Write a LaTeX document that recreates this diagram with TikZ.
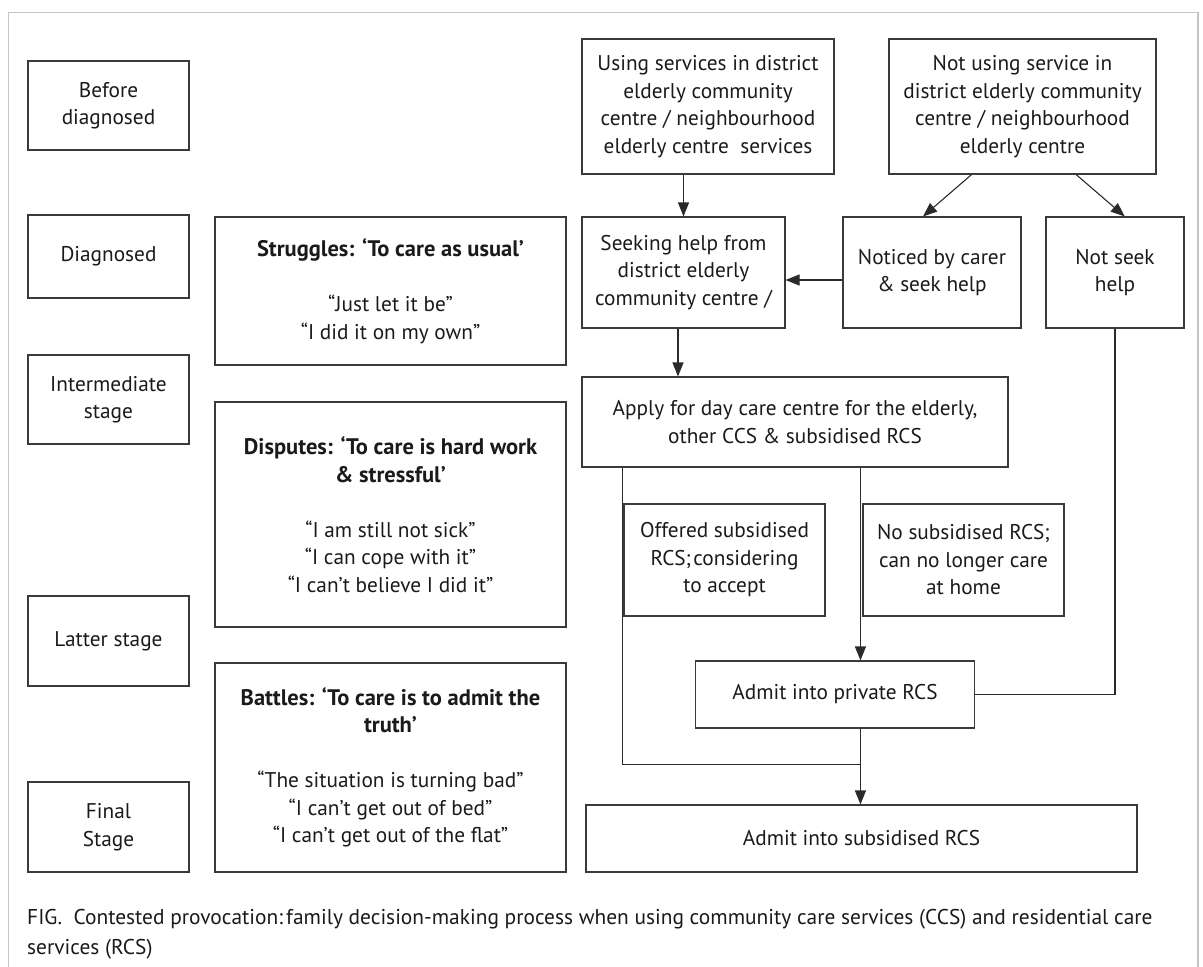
\documentclass[tikz,border=0pt]{standalone}
\usepackage{fontspec}
\setmainfont{PT Sans}
\usetikzlibrary{arrows.meta,calc}
\definecolor{boxc}{HTML}{3A3A3A}
\definecolor{linec}{HTML}{2A2A2A}
\definecolor{txt}{HTML}{1A1A1A}
\definecolor{framec}{HTML}{C4C4C4}
\newcommand\ttl[1]{{\fontsize{22.5}{27.5}\selectfont\bfseries #1}}
\begin{document}
\begin{tikzpicture}[x=1pt,y=-1pt,
  box/.style={draw=boxc, line width=1.1pt, inner sep=0pt, align=center, text=txt,
    font=\fontsize{21.3}{27.5}\selectfont},
  arr/.style={draw=linec, line width=1.1pt, -{Triangle[length=14pt,width=11pt]}},
  ln/.style={draw=linec, line width=1.1pt}]
\useasboundingbox (0,0) rectangle (1203,967);
\draw[framec, line width=1.4pt] (8.5,967) -- (8.5,12.5) -- (1198,12.5) -- (1198,967);

% stage column
\node[box, minimum width=161pt, minimum height=89pt] (s1) at (108.5,105.5) {Before\\diagnosed};
\node[box, minimum width=161pt, minimum height=83pt] (s2) at (108.5,256.5) {Diagnosed};
\node[box, minimum width=161pt, minimum height=89pt] (s3) at (108.5,399.5) {Intermediate\\stage};
\node[box, minimum width=161pt, minimum height=90pt] (s4) at (108.5,641) {Latter stage};
\node[box, minimum width=161pt, minimum height=90pt] (s5) at (108.5,827) {Final\\Stage};

% theme column
\node[box, minimum width=351pt, minimum height=148pt] (t1) at (390.5,291)
  {\ttl{Struggles: ‘To care as usual’}\\[27.5pt]“Just let it be”\\“I did it on my own”};
\node[box, minimum width=351pt, minimum height=225pt] (t2) at (390.5,514.5)
  {\ttl{Disputes: ‘To care is hard work}\\\ttl{\& stressful’}\\[27.5pt]“I am still not sick”\\“I can cope with it”\\“I can’t believe I did it”};
\node[box, minimum width=351pt, minimum height=209pt] (t3) at (390.5,767.5)
  {\ttl{Battles: ‘To care is to admit the}\\\ttl{truth’}\\[27.5pt]“The situation is turning bad”\\“I can’t get out of bed”\\“I can’t get out of the flat”};

% flow
\node[box, minimum width=252pt, minimum height=135pt] (use) at (708,106.5)
  {Using services in district\\elderly community\\centre / neighbourhood\\elderly centre\ \ services};
\node[box, minimum width=267pt, minimum height=135pt] (nuse) at (1022.5,106.5)
  {Not using service in\\district elderly community\\centre / neighbourhood\\elderly centre};
\node[box, minimum width=203pt, minimum height=111pt] (seek) at (683.5,272.5)
  {Seeking help from\\district elderly\\community centre /};
\node[box, minimum width=178pt, minimum height=111pt] (noticed) at (932,272.5)
  {Noticed by carer\\\& seek help};
\node[box, minimum width=138pt, minimum height=111pt] (nseek) at (1115,272.5)
  {Not seek\\help};
\node[box, minimum width=426pt, minimum height=90pt] (apply) at (795,422)
  {Apply for day care centre for the elderly,\\other CCS \& subsidised RCS};
\node[box, minimum width=201pt, minimum height=112pt] (offer) at (724.5,560)
  {Offered subsidised\\RCS;\hspace{0.1em}considering\\to accept};
\node[box, minimum width=201pt, minimum height=112pt] (norcs) at (963.5,560)
  {No subsidised RCS;\\can no longer care\\at home};
\node[box, minimum width=278.5pt, minimum height=67pt] (priv) at (835,694.5)
  {Admit into private RCS};
\node[box, minimum width=551pt, minimum height=67pt] (sub) at (861.5,838.5)
  {Admit into subsidised RCS};

% connectors
\draw[arr] (seek.north |- use.south) -- (seek.north);
\draw[arr] ($(nuse.south west)!0.31!(nuse.south east)$) -- ($(noticed.north west)!0.45!(noticed.north east)$);
\draw[arr] ($(nuse.south west)!0.70!(nuse.south east)$) -- ($(nseek.north west)!0.57!(nseek.north east)$);
\draw[arr] ($(noticed.west)+(0,7.5)$) -- ($(seek.east)+(0,7.5)$);
\coordinate (sa) at ($(seek.south)+(-5.5,0)$);
\draw[arr] (sa) -- (sa |- apply.north);
\coordinate (aL) at ($(apply.south west)+(41,0)$);
\coordinate (aR) at ($(apply.south west)+(279,0)$);
\coordinate (j) at ($(aR)+(0,297)$);
\draw[ln] (aL) -- (aL |- j) -- (j);
\draw[arr] (aR) -- (aR |- priv.north);
\draw[arr] (aR |- priv.south) -- (aR |- sub.north);
\draw[ln] (nseek.south) -- (nseek.south |- priv.east) -- (priv.east);

% caption
\node[anchor=north west, align=left, inner sep=0pt, text=txt,
  font=\fontsize{21.4}{30}\selectfont] (cap) at (27,909)
  {FIG.\ \ Contested provocation:\hspace{0.15em}family decision-making process when using community care services (CCS) and residential care\\services (RCS)};
\end{tikzpicture}
\end{document}
